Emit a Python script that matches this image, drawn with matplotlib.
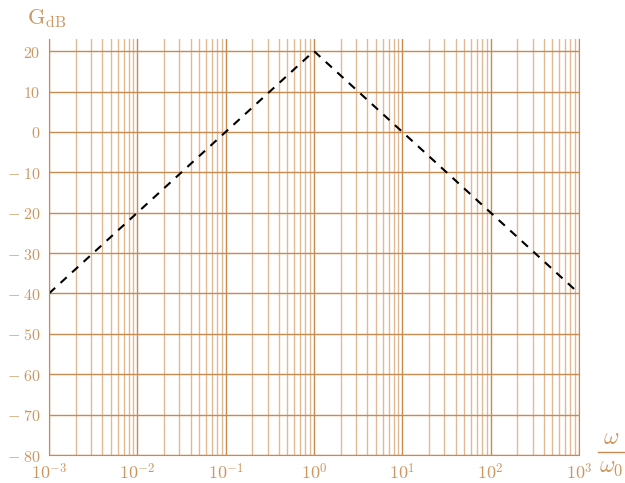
import numpy as np
import matplotlib.pyplot as plt
from matplotlib.lines import Line2D
from matplotlib.ticker import LogLocator, FixedLocator

plt.rcParams['mathtext.fontset'] = 'cm'
plt.rcParams['font.family'] = 'serif'

# asymptotic gain curve
w = [1e-3, 1e0, 1e3]
gain_db = [-40, 20, -40]
yticks = [-80, -70, -60, -50, -40, -30, -20, -10, 0, 10, 20]
xticks = [1e-3, 1e-2, 1e-1, 1e0, 1e1, 1e2, 1e3]

c_major = '#c98a4f'
c_minor = '#e2b995'
c_text = '#cc9660'

fig = plt.figure(figsize=(6.25, 4.83), dpi=100)
ax = fig.add_axes([49/625, 28/483, 530/625, 416/483])
ax.set_xscale('log')
ax.set_xlim(1e-3, 1e3)
ax.set_ylim(-80, 23)

ax.xaxis.set_major_locator(FixedLocator(xticks))
ax.xaxis.set_minor_locator(LogLocator(base=10, subs=np.arange(2, 10)))
ax.yaxis.set_major_locator(FixedLocator(yticks))
ax.set_xticklabels([r'$10^{%d}$' % int(np.log10(t)) for t in xticks])
ax.set_yticklabels([r'$%d$' % t if t >= 0 else r'$-\;%d$' % -t for t in yticks])

ax.grid(True, which='major', color=c_major, lw=1.0)
ax.grid(True, which='minor', axis='x', color=c_minor, lw=1.0)
ax.tick_params(which='both', length=0, colors=c_text, labelsize=11.5)
ax.tick_params(axis='x', pad=6, labelsize=13)
ax.tick_params(axis='y', pad=6)

ax.spines['top'].set_visible(False)
for side in ['left', 'bottom', 'right']:
    ax.spines[side].set_color(c_major)

ax.plot(w, gain_db, color='black', lw=1.5, ls=(0, (4, 3.5)))

fig.text(27/625, 1 - 19/483, r'$\mathrm{G}_{\mathrm{dB}}$', color=c_text,
         fontsize=16, va='center', ha='left')

# x axis label drawn as a stacked fraction
fig.text(611/625, 1 - 437/483, r'$\omega$', color=c_text,
         fontsize=17, va='center', ha='center')
fig.text(611/625, 1 - 467/483, r'$\omega_0$', color=c_text,
         fontsize=17, va='center', ha='center')
fig.add_artist(Line2D([598/625, 624/625], [1 - 452/483, 1 - 452/483],
                      transform=fig.transFigure, color=c_major, lw=1.0))

fig.savefig('out.png', dpi=100)
